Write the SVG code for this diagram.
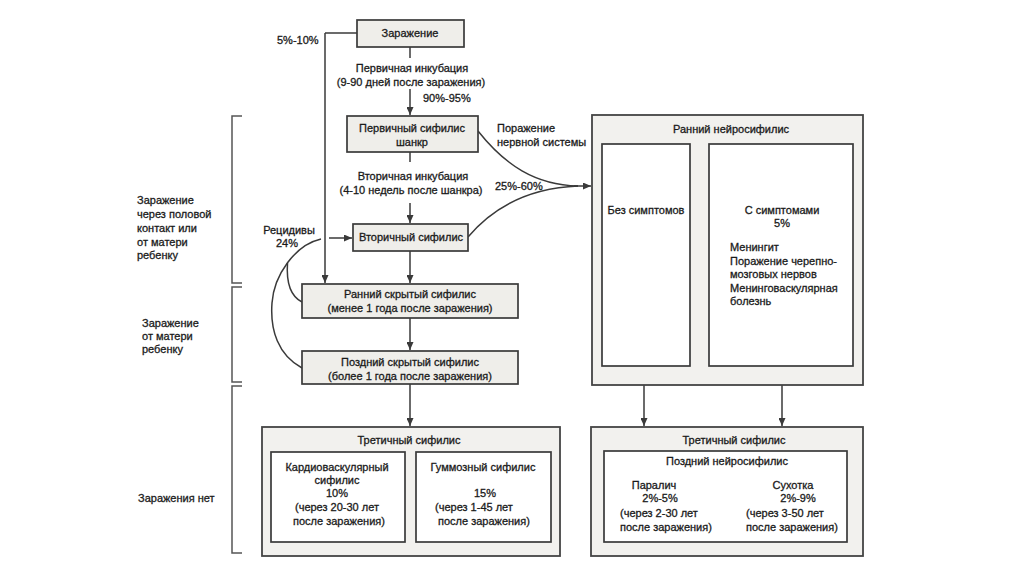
<svg xmlns="http://www.w3.org/2000/svg" width="1024" height="574" viewBox="0 0 1024 574">
<defs>
<marker id="ah" markerWidth="8" markerHeight="7" refX="8" refY="3.5" orient="auto" markerUnits="userSpaceOnUse">
<path d="M0,0 L8,3.5 L0,7 z" fill="#3a3a3a"/>
</marker>
<style>
text{font-family:"Liberation Sans",Arial,sans-serif;font-size:11px;fill:#1a1a1a;stroke:#1a1a1a;stroke-width:0.3}
.c{text-anchor:middle}
.box{fill:#efeeea;stroke:#3a3a3a;stroke-width:1.7}
.outer{fill:#f2f1ee;stroke:#444;stroke-width:1.8}
.inner{fill:#ffffff;stroke:#3a3a3a;stroke-width:1.7}
.ln{fill:none;stroke:#3a3a3a;stroke-width:1.5}
.arr{fill:none;stroke:#3a3a3a;stroke-width:1.5;marker-end:url(#ah)}
.br{fill:none;stroke:#555;stroke-width:1.5}
</style>
</defs>
<rect width="1024" height="574" fill="#ffffff"/>

<g id="brackets">
<path class="br" d="M242,116 H232 V283 H242"/>
<path class="br" d="M242,287 H232 V382 H242"/>
<path class="br" d="M242,386 H232 V553 H242"/>
</g>

<g id="side-labels">
<text x="137" y="204">Заражение</text>
<text x="137" y="218">через половой</text>
<text x="137" y="232">контакт или</text>
<text x="137" y="246">от матери</text>
<text x="137" y="259">ребенку</text>
<text x="142" y="327">Заражение</text>
<text x="142" y="340">от матери</text>
<text x="142" y="353">ребенку</text>
<text x="138" y="502">Заражения нет</text>
</g>

<g id="connectors">
<path class="ln" d="M410,47 V58"/>
<path class="arr" d="M410,89 V115"/>
<path class="ln" d="M410,152 V162"/>
<path class="arr" d="M410,203 V223"/>
<path class="arr" d="M410,251 V283"/>
<path class="arr" d="M410,318 V350"/>
<path class="arr" d="M410,384 V426"/>
<path class="ln" d="M357,33 H325"/>
<path class="arr" d="M325,33 V283"/>
<path class="ln" d="M478,131 C505,165 535,185 578,186"/>
<path class="ln" d="M468,237 C495,205 530,188 578,186"/>
<path class="arr" d="M574,186 H591"/>
<path class="ln" d="M302,368 C278,355 270,330 272,303 C274,275 295,245 321,239"/>
<path class="ln" d="M302,302 C292,297 286,285 287.5,263"/>
<path class="arr" d="M329,238 H352"/>
<path class="arr" d="M690,211 H708"/>
<path class="arr" d="M644,366 V426"/>
<path class="arr" d="M782,366 V426"/>
</g>

<g id="edge-labels">
<text x="277" y="44">5%-10%</text>
<text class="c" x="412" y="72">Первичная инкубация</text>
<text class="c" x="411" y="86">(9-90 дней после заражения)</text>
<text x="423" y="102">90%-95%</text>
<text x="497" y="132">Поражение</text>
<text x="497" y="146">нервной системы</text>
<text class="c" x="413" y="180">Вторичная инкубация</text>
<text class="c" x="411" y="194">(4-10 недель после шанкра)</text>
<text x="495" y="190">25%-60%</text>
<text class="c" x="289" y="234">Рецидивы</text>
<text class="c" x="287" y="247">24%</text>
</g>

<g id="n-zarazhenie">
<rect class="box" x="357" y="20" width="107" height="27"/>
<text class="c" x="410" y="37">Заражение</text>
</g>

<g id="n-primary">
<rect class="box" x="347" y="116" width="131" height="36"/>
<text class="c" x="412" y="132">Первичный сифилис</text>
<text class="c" x="412" y="146">шанкр</text>
</g>

<g id="n-secondary">
<rect class="box" x="353" y="224" width="115" height="27"/>
<text class="c" x="411" y="241">Вторичный сифилис</text>
</g>

<g id="n-early-latent">
<rect class="box" x="302" y="284" width="216" height="34"/>
<text class="c" x="410" y="298">Ранний скрытый сифилис</text>
<text class="c" x="410" y="312">(менее 1 года после заражения)</text>
</g>

<g id="n-late-latent">
<rect class="box" x="302" y="351" width="216" height="33"/>
<text class="c" x="410" y="366">Поздний скрытый сифилис</text>
<text class="c" x="410" y="380">(более 1 года после заражения)</text>
</g>

<g id="n-early-neuro">
<rect class="outer" x="592" y="115" width="271" height="270"/>
<text class="c" x="731" y="133">Ранний нейросифилис</text>
<rect class="inner" x="602" y="144" width="88" height="222"/>
<text class="c" x="646" y="214">Без симптомов</text>
<rect class="inner" x="709" y="144" width="144" height="222"/>
<text class="c" x="782" y="214">С симптомами</text>
<text class="c" x="782" y="227">5%</text>
<text x="730" y="251">Менингит</text>
<text x="730" y="265">Поражение черепно-</text>
<text x="730" y="278">мозговых нервов</text>
<text x="730" y="292">Менинговаскулярная</text>
<text x="730" y="305">болезнь</text>
</g>

<g id="n-tertiary">
<rect class="outer" x="262" y="427" width="298" height="129"/>
<text class="c" x="409" y="444">Третичный сифилис</text>
<rect class="inner" x="271" y="452" width="134" height="90"/>
<text class="c" x="337" y="471">Кардиоваскулярный</text>
<text class="c" x="337" y="484">сифилис</text>
<text class="c" x="337" y="497">10%</text>
<text class="c" x="337" y="511">(через 20-30 лет</text>
<text class="c" x="339" y="525">после заражения)</text>
<rect class="inner" x="416" y="452" width="135" height="90"/>
<text class="c" x="483" y="471">Гуммозный сифилис</text>
<text class="c" x="485" y="497">15%</text>
<text x="435" y="511">(через 1-45 лет</text>
<text x="438" y="525">после заражения)</text>
</g>

<g id="n-tertiary-neuro">
<rect class="outer" x="591" y="427" width="272" height="129"/>
<text class="c" x="734" y="444">Третичный сифилис</text>
<rect class="inner" x="604" y="451" width="243" height="91"/>
<text class="c" x="727" y="465">Поздний нейросифилис</text>
<text class="c" x="654" y="489">Паралич</text>
<text class="c" x="660" y="502">2%-5%</text>
<text x="620" y="517">(через 2-30 лет</text>
<text x="620" y="531">после заражения)</text>
<text class="c" x="793" y="489">Сухотка</text>
<text class="c" x="798" y="502">2%-9%</text>
<text x="746" y="517">(через 3-50 лет</text>
<text x="746" y="531">после заражения)</text>
</g>
</svg>
